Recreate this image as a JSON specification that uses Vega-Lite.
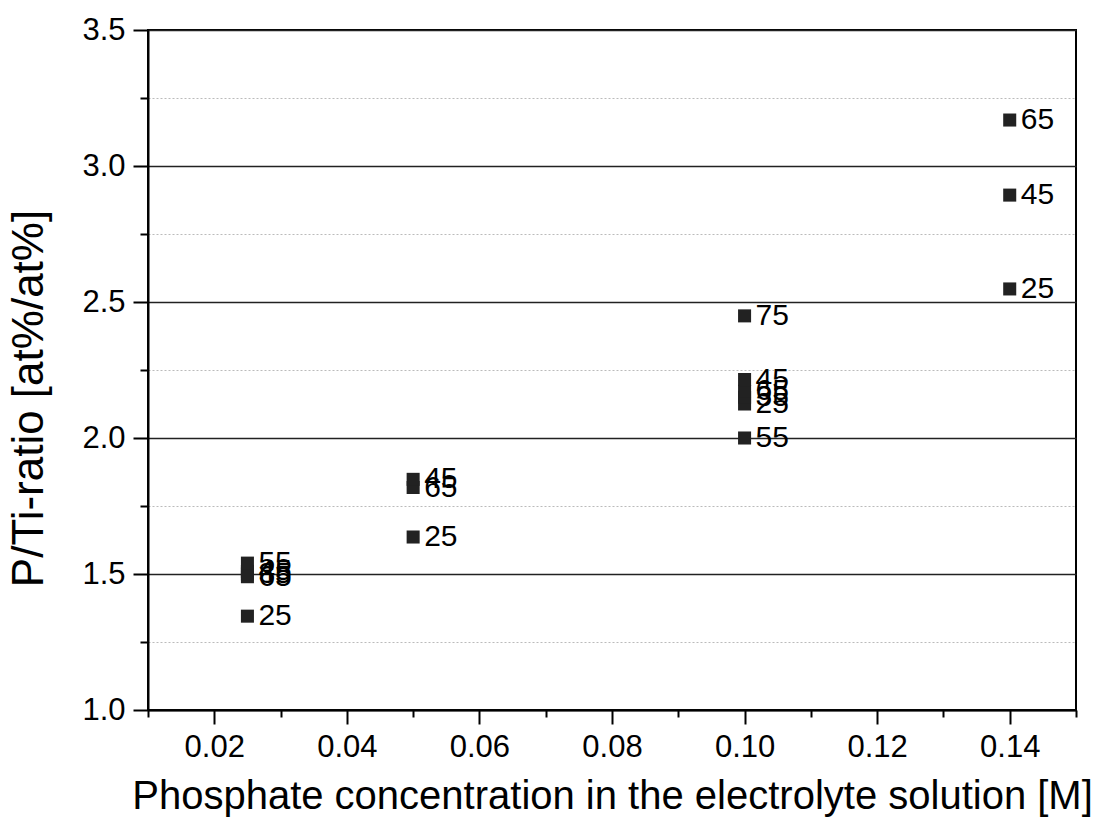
{
  "$schema": "https://vega.github.io/schema/vega-lite/v6.json",
  "autosize": "none",
  "width": 928,
  "height": 680,
  "padding": {"left": 148, "top": 30, "right": 21, "bottom": 108},
  "background": "white",
  "config": {
    "font": "Liberation Sans",
    "view": {"stroke": "black", "strokeWidth": 2},
    "axis": {
      "domainColor": "black",
      "domainWidth": 2,
      "tickColor": "black",
      "tickWidth": 2,
      "labelColor": "black",
      "titleColor": "black",
      "labelFont": "Liberation Sans",
      "titleFont": "Liberation Sans",
      "labelFontSize": 31,
      "titleFontWeight": "normal"
    }
  },
  "data": {
    "values": [
      {"conc": 0.025, "ratio": 1.345, "temp": "25"},
      {"conc": 0.025, "ratio": 1.490, "temp": "65"},
      {"conc": 0.025, "ratio": 1.500, "temp": "35"},
      {"conc": 0.025, "ratio": 1.510, "temp": "45"},
      {"conc": 0.025, "ratio": 1.540, "temp": "55"},
      {"conc": 0.05, "ratio": 1.636, "temp": "25"},
      {"conc": 0.05, "ratio": 1.818, "temp": "65"},
      {"conc": 0.05, "ratio": 1.848, "temp": "45"},
      {"conc": 0.1, "ratio": 2.000, "temp": "55"},
      {"conc": 0.1, "ratio": 2.125, "temp": "25"},
      {"conc": 0.1, "ratio": 2.150, "temp": "35"},
      {"conc": 0.1, "ratio": 2.172, "temp": "65"},
      {"conc": 0.1, "ratio": 2.215, "temp": "45"},
      {"conc": 0.1, "ratio": 2.449, "temp": "75"},
      {"conc": 0.14, "ratio": 2.548, "temp": "25"},
      {"conc": 0.14, "ratio": 2.893, "temp": "45"},
      {"conc": 0.14, "ratio": 3.169, "temp": "65"}
    ]
  },
  "encoding": {
    "x": {
      "field": "conc",
      "type": "quantitative",
      "scale": {"domain": [0.01, 0.15], "nice": false, "zero": false},
      "axis": {
        "title": "Phosphate concentration in the electrolyte solution [M]",
        "titleFontSize": 40,
        "values": [0.01, 0.02, 0.03, 0.04, 0.05, 0.06, 0.07, 0.08, 0.09, 0.1, 0.11, 0.12, 0.13, 0.14, 0.15],
        "labelExpr": "round(datum.value*100) % 2 == 0 ? format(datum.value, '.2f') : ''",
        "tickSize": {"condition": {"test": "round(datum.value*100) % 2 == 0", "value": 14}, "value": 7},
        "labelPadding": 8,
        "titlePadding": 14,
        "grid": false,
        "labelFlush": false,
        "labelOverlap": false
      }
    },
    "y": {
      "field": "ratio",
      "type": "quantitative",
      "scale": {"domain": [1.0, 3.5], "nice": false, "zero": false},
      "axis": {
        "title": "P/Ti-ratio [at%/at%]",
        "titleFontSize": 44,
        "titleBaseline": "alphabetic",
        "titleAlign": "center",
        "titleX": -106,
        "titleY": 368,
        "values": [1.0, 1.25, 1.5, 1.75, 2.0, 2.25, 2.5, 2.75, 3.0, 3.25, 3.5],
        "labelExpr": "round(datum.value*4) % 2 == 0 ? format(datum.value, '.1f') : ''",
        "tickSize": {"condition": {"test": "round(datum.value*4) % 2 == 0", "value": 15}, "value": 8},
        "labelPadding": 8,
        "grid": true,
        "gridColor": {"condition": {"test": "round(datum.value*4) % 2 == 0", "value": "#222222"}, "value": "#bbbbbb"},
        "gridDash": {"condition": {"test": "round(datum.value*4) % 2 == 0", "value": []}, "value": [2, 2]},
        "gridWidth": {"condition": {"test": "round(datum.value*4) % 2 == 0", "value": 1.5}, "value": 1},
        "labelFlush": false,
        "labelOverlap": false
      }
    }
  },
  "layer": [
    {
      "mark": {"type": "square", "size": 170, "filled": true, "color": "#222222", "opacity": 1}
    },
    {
      "mark": {"type": "text", "align": "left", "baseline": "middle", "dx": 11, "fontSize": 30, "color": "black", "font": "Liberation Sans"},
      "encoding": {"text": {"field": "temp", "type": "nominal"}}
    }
  ]
}
